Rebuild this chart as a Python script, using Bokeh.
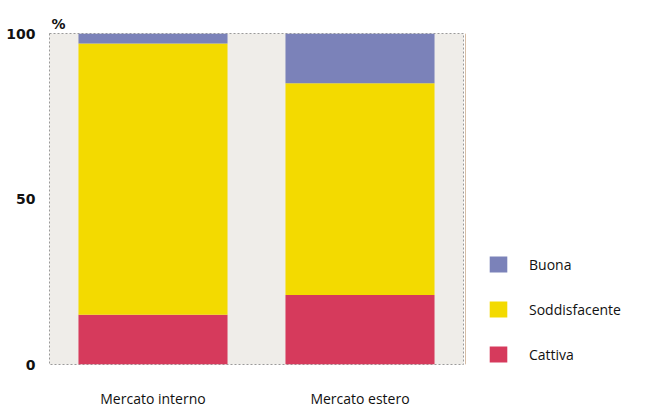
from bokeh.plotting import figure
from bokeh.models import Range1d, Legend, LegendItem, FixedTicker
from bokeh.layouts import row
from bokeh.embed import file_html
from bokeh.resources import INLINE

categories = ["Mercato interno", "Mercato estero"]
series = ["Cattiva", "Soddisfacente", "Buona"]
cattiva = [15, 21]
soddisfacente = [82, 64]
buona = [3, 15]
colors = ["#d63a5c", "#f3da00", "#7b82b9"]
y_ticks = [0, 50, 100]

data = {"cat": categories, "Cattiva": cattiva, "Soddisfacente": soddisfacente, "Buona": buona}

p = figure(x_range=categories, width=465, height=410, output_backend="svg",
           toolbar_location=None, min_border_left=49, min_border_right=2,
           min_border_top=33, min_border_bottom=37, title="%")
p.y_range = Range1d(0, 100)

rs = p.vbar_stack(series, x="cat", width=0.72, color=colors, source=data, line_color=None)

p.title.align = "left"
p.title.text_font = "DejaVu Sans"
p.title.text_font_style = "bold"
p.title.text_font_size = "14px"
p.title.text_color = "#111111"
p.title.offset = 2
p.title.standoff = 4

p.background_fill_color = "#efede9"
p.border_fill_color = "white"
p.outline_line_color = "#9a9a9a"
p.outline_line_dash = "2 2"
p.outline_line_width = 1
p.grid.visible = False

p.yaxis.ticker = FixedTicker(ticks=y_ticks)
p.yaxis.axis_line_color = None
p.yaxis.major_tick_line_color = None
p.yaxis.minor_tick_line_color = None
p.yaxis.major_label_text_font = "DejaVu Sans"
p.yaxis.major_label_text_font_style = "bold"
p.yaxis.major_label_text_font_size = "14px"
p.yaxis.major_label_text_color = "#111111"
p.yaxis.major_label_standoff = 8

p.xaxis.axis_line_color = None
p.xaxis.major_tick_line_color = None
p.xaxis.major_label_text_font = "Open Sans"
p.xaxis.major_label_text_font_size = "14px"
p.xaxis.major_label_text_color = "#111111"
p.xaxis.major_label_standoff = 18

# legend panel: swatch renderers hold one point outside the visible range
p2 = figure(width=186, height=410, output_backend="svg", toolbar_location=None,
            x_axis_location=None, y_axis_location=None,
            min_border_left=0, min_border_right=0, min_border_top=0, min_border_bottom=0,
            x_range=Range1d(0, 1), y_range=Range1d(0, 1))
p2.outline_line_color = None
p2.grid.visible = False
p2.background_fill_color = "white"
dummies = [p2.vbar(x=[-10], top=[1], width=1, color=c, line_color=None) for c in colors]

items = [LegendItem(label=s, renderers=[r]) for s, r in zip(series, dummies)][::-1]
legend = Legend(items=items, location=(22, 0), orientation="vertical",
                glyph_width=22, glyph_height=20, label_standoff=20,
                spacing=25, label_height=20, padding=0, margin=0,
                background_fill_alpha=0, border_line_color=None,
                label_text_font="Open Sans", label_text_font_size="14px",
                label_text_color="#111111")
p2.add_layout(legend)

open("out.html", "w").write(file_html(row(p, p2), INLINE))
